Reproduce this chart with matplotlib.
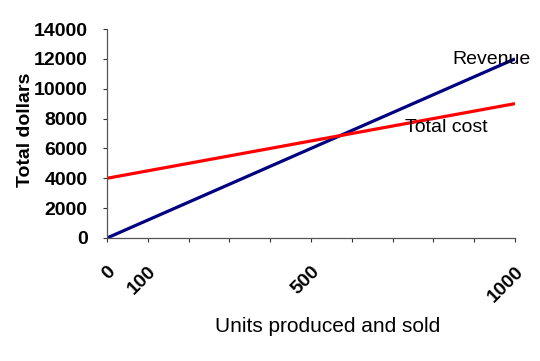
import matplotlib
matplotlib.use("Agg")
import matplotlib.pyplot as plt

units = [0, 1000]
revenue = [0, 12000]
total_cost = [4000, 9000]
x_ticks = [0, 100, 200, 300, 400, 500, 600, 700, 800, 900, 1000]
x_labels = ["0", "100", "", "", "", "500", "", "", "", "", "1000"]
y_ticks = [0, 2000, 4000, 6000, 8000, 10000, 12000, 14000]

plt.rcParams['font.family'] = ['Liberation Sans', 'DejaVu Sans']

fig = plt.figure(figsize=(5.4, 3.61), dpi=100)
ax = fig.add_axes([107/540, 1-238/361, (515-107)/540, (238-29)/361])

ax.plot(units, revenue, color='#000080', lw=2.3, solid_capstyle='butt')
ax.plot(units, total_cost, color='#ff0000', lw=2.3, solid_capstyle='butt')

ax.set_xlim(0, 1000)
ax.set_ylim(0, 14000)
ax.set_xticks(x_ticks)
ax.set_xticklabels(x_labels, rotation=45, ha='right', va='top', rotation_mode='anchor',
                   fontsize=14, fontweight='bold')
ax.set_yticks(y_ticks)
ax.set_yticklabels([str(v) for v in y_ticks], fontsize=14, fontweight='bold')
ax.tick_params(axis='x', direction='out', length=3, width=0.8, pad=15, color='#333333')
ax.tick_params(axis='y', direction='out', length=3, width=0.8, pad=11, color='#333333')

for s in ['top', 'right']:
    ax.spines[s].set_visible(False)
for s in ['left', 'bottom']:
    ax.spines[s].set_linewidth(0.9)
    ax.spines[s].set_color('#555555')
    ax.spines[s].set_linestyle((0, (1, 1)))

ax.text(846, 11950, 'Revenue', fontsize=14, va='center', ha='left')
ax.text(730, 7400, 'Total cost', fontsize=14, va='center', ha='left')

fig.text(26/540, 1-130/361, 'Total dollars', rotation=90, fontsize=14, fontweight='bold',
         ha='center', va='center')
fig.text(328/540, 1-326/361, 'Units produced and sold', fontsize=15, ha='center', va='center')

fig.savefig('out.png', dpi=100)
